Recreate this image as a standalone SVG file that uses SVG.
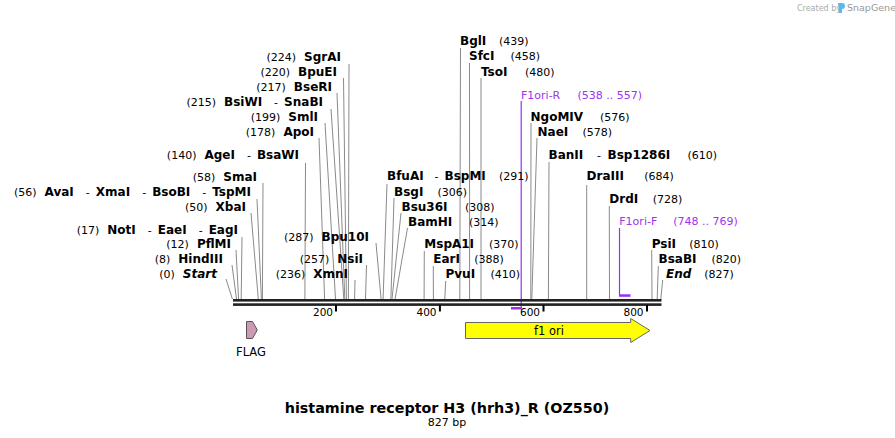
<svg xmlns="http://www.w3.org/2000/svg" width="895" height="438" viewBox="0 0 895 438">
<style>
text{font-family:"DejaVu Sans","Liberation Sans",sans-serif;font-size:11px;fill:#000}
.e{font-weight:bold;font-size:12px}
.i{font-style:italic}
.p{fill:#a033ee}
.ln{stroke:#8a8a8a;stroke-width:1;fill:none}
.pl{stroke:#9b30f0;stroke-width:1.2;fill:none}
.pb{fill:#9b30f0}
.tk{font-size:10.5px}
</style>
<rect width="895" height="438" fill="#fff"/>
<g id="logo">
<text x="797" y="11" style="font-size:8px;fill:#aaa">Created by</text>
<path d="M838,3 h4 q3,0 3,3 q0,3 -3,3 v4 h-3 z" fill="#5bb8e8"/>
<text x="847" y="11" style="font-size:9.5px;fill:#999">SnapGene</text>
</g>
<g id="connectors">
<path class="ln" d="M349,64 L348.4,299 M343.5,78 L346.4,299 M337,93 L344.8,299 M331,109 L343.8,299 M325,123 L335.5,299 M319,138 L324.6,299 M305.5,163 L304.9,299 M263,183 L262.4,299 M257,199 L261.4,299 M251,213 L258.3,299 M242,237 L241.2,299 M236,250 L238.6,299 M232,265 L236.5,299 M226,279 L232.4,299 M376,243 L381.1,299 M366.5,265 L365.5,299 M355,280 L354.6,299"/>
<path class="ln" d="M460.5,48 L459.8,299 M469.5,63 L469.6,299 M481,78 L481,299 M531,123 L530.8,299 M537,138 L531.8,299 M549,162 L548.4,299 M387,184 L383.1,299 M394,198 L390.9,299 M401,213 L392,299 M407.5,228 L395.1,299 M424.3,251 L424.1,299 M433.3,266 L433.4,299 M445.7,281 L444.8,299 M586.7,185 L586.7,299 M609.3,206 L609.5,299 M651.7,250 L652,299 M658.3,266 L657.2,299 M662.7,280 L660.8,299"/>
<path class="pl" d="M521.2,101 V308 M619.5,228 V295"/>
<rect class="pb" x="511" y="307" width="10.8" height="2.5"/>
<rect class="pb" x="619" y="294.3" width="11.5" height="2.5"/>
</g>
<g id="backbone">
<rect x="233" y="299" width="428.5" height="2.6" fill="#222"/>
<rect x="233" y="303.3" width="428.5" height="2.6" fill="#222"/>
<path d="M336,305 V311.5 M439.9,305 V311.5 M543.5,305 V311.5 M647,305 V311.5" stroke="#000" stroke-width="2"/>
<text class="tk" x="333" y="316" text-anchor="end">200</text>
<text class="tk" x="436.5" y="316" text-anchor="end">400</text>
<text class="tk" x="540" y="316" text-anchor="end">600</text>
<text class="tk" x="643.5" y="316" text-anchor="end">800</text>
</g>
<g id="FLAG">
<path d="M246.5,321.5 H252.5 L257.3,330 L252.5,338.5 H246.5 Z" fill="#cc9ab4" stroke="#555" stroke-width="1"/>
<text x="251" y="356" text-anchor="middle" style="font-size:11.5px">FLAG</text>
</g>
<g id="f1ori">
<path d="M465.5,322.5 H630.7 V318.5 L650,330.5 L630.7,342.5 V338.5 H465.5 Z" fill="#ffff00" stroke="#666" stroke-width="1"/>
<text x="549" y="334.5" text-anchor="middle" style="font-size:11.5px">f1 ori</text>
</g>
<g id="left-labels">
<text x="341" y="61" text-anchor="end">(224)<tspan class="e" dx="8">SgrAI</tspan></text>
<text x="337" y="76" text-anchor="end">(220)<tspan class="e" dx="8">BpuEI</tspan></text>
<text x="332" y="91" text-anchor="end">(217)<tspan class="e" dx="8">BseRI</tspan></text>
<text x="323" y="106" text-anchor="end">(215)<tspan class="e" dx="8">BsiWI</tspan><tspan dx="12">-</tspan><tspan class="e" dx="6">SnaBI</tspan></text>
<text x="318" y="121" text-anchor="end">(199)<tspan class="e" dx="8">SmlI</tspan></text>
<text x="314" y="136" text-anchor="end">(178)<tspan class="e" dx="8">ApoI</tspan></text>
<text x="299" y="159" text-anchor="end">(140)<tspan class="e" dx="8">AgeI</tspan><tspan dx="12">-</tspan><tspan class="e" dx="6">BsaWI</tspan></text>
<text x="257" y="181" text-anchor="end">(58)<tspan class="e" dx="8">SmaI</tspan></text>
<text x="251" y="196" text-anchor="end">(56)<tspan class="e" dx="8">AvaI</tspan><tspan dx="12">-</tspan><tspan class="e" dx="6">XmaI</tspan><tspan dx="12">-</tspan><tspan class="e" dx="6">BsoBI</tspan><tspan dx="12">-</tspan><tspan class="e" dx="6">TspMI</tspan></text>
<text x="246" y="211" text-anchor="end">(50)<tspan class="e" dx="8">XbaI</tspan></text>
<text x="238" y="234" text-anchor="end">(17)<tspan class="e" dx="8">NotI</tspan><tspan dx="12">-</tspan><tspan class="e" dx="6">EaeI</tspan><tspan dx="12">-</tspan><tspan class="e" dx="6">EagI</tspan></text>
<text x="231" y="248" text-anchor="end">(12)<tspan class="e" dx="8">PflMI</tspan></text>
<text x="223" y="263" text-anchor="end">(8)<tspan class="e" dx="8">HindIII</tspan></text>
<text x="217" y="278" text-anchor="end">(0)<tspan class="e i" dx="8">Start</tspan></text>
<text x="369" y="241" text-anchor="end">(287)<tspan class="e" dx="8">Bpu10I</tspan></text>
<text x="363" y="263" text-anchor="end">(257)<tspan class="e" dx="8">NsiI</tspan></text>
<text x="348" y="278" text-anchor="end">(236)<tspan class="e" dx="8">XmnI</tspan></text>
</g>
<g id="right-labels">
<text x="460" y="45"><tspan class="e">BglI</tspan><tspan x="499">(439)</tspan></text>
<text x="469" y="60"><tspan class="e">SfcI</tspan><tspan x="510.5">(458)</tspan></text>
<text x="481" y="76"><tspan class="e">TsoI</tspan><tspan x="525">(480)</tspan></text>
<text x="521" y="99" class="p">F1ori-R<tspan class="p" x="577.5">(538 .. 557)</tspan></text>
<text x="530.5" y="121"><tspan class="e">NgoMIV</tspan><tspan x="600">(576)</tspan></text>
<text x="537.5" y="136"><tspan class="e">NaeI</tspan><tspan x="582.5">(578)</tspan></text>
<text x="548.5" y="159"><tspan class="e">BanII</tspan><tspan x="597">-</tspan><tspan class="e" x="607.5">Bsp1286I</tspan><tspan x="687.5">(610)</tspan></text>
<text x="387" y="180"><tspan class="e">BfuAI</tspan><tspan x="434.5">-</tspan><tspan class="e" x="444.5">BspMI</tspan><tspan x="499">(291)</tspan></text>
<text x="394" y="196"><tspan class="e">BsgI</tspan><tspan x="437.5">(306)</tspan></text>
<text x="401.5" y="211"><tspan class="e">Bsu36I</tspan><tspan x="465">(308)</tspan></text>
<text x="408" y="226"><tspan class="e">BamHI</tspan><tspan x="469">(314)</tspan></text>
<text x="424.3" y="248"><tspan class="e">MspA1I</tspan><tspan x="489">(370)</tspan></text>
<text x="433.3" y="263"><tspan class="e">EarI</tspan><tspan x="474.3">(388)</tspan></text>
<text x="445.5" y="278"><tspan class="e">PvuI</tspan><tspan x="490.5">(410)</tspan></text>
<text x="586.5" y="180"><tspan class="e">DraIII</tspan><tspan x="644.3">(684)</tspan></text>
<text x="609.3" y="203"><tspan class="e">DrdI</tspan><tspan x="652.7">(728)</tspan></text>
<text x="619.3" y="225" class="p">F1ori-F<tspan class="p" x="673.3">(748 .. 769)</tspan></text>
<text x="651.7" y="248"><tspan class="e">PsiI</tspan><tspan x="689.3">(810)</tspan></text>
<text x="658.5" y="263"><tspan class="e">BsaBI</tspan><tspan x="711.5">(820)</tspan></text>
<text x="666" y="278"><tspan class="e i">End</tspan><tspan x="704.3">(827)</tspan></text>
</g>
<g id="title">
<text x="447" y="413" text-anchor="middle" style="font-size:14.3px;font-weight:bold">histamine receptor H3 (hrh3)_R (OZ550)</text>
<text x="447" y="426" text-anchor="middle">827 bp</text>
</g>
</svg>
